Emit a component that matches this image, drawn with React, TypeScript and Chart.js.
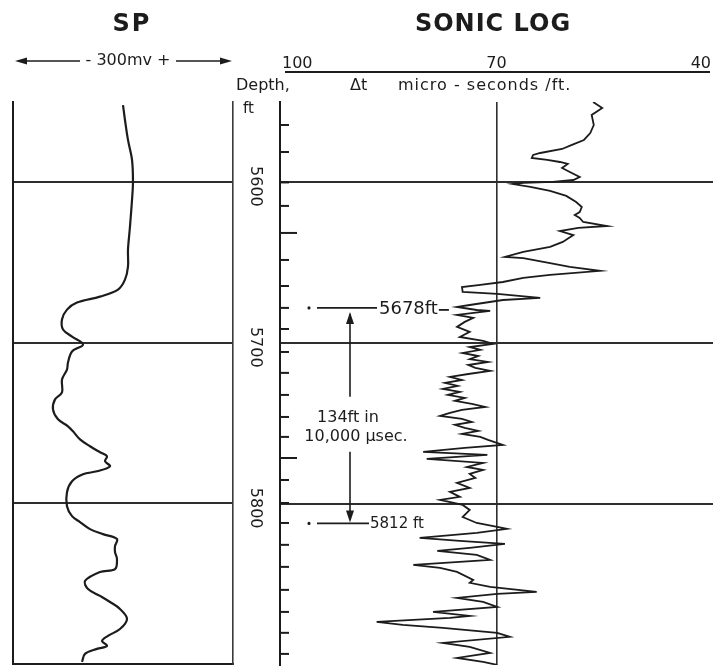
import React, { useEffect, useRef } from "react";
import { Chart, registerables } from "chart.js";

Chart.register(...registerables);

// ---------------- data ----------------
const DEPTH_MIN = 5550;
const DEPTH_MAX = 5900;
const DEPTH_LINES = [5600, 5700, 5800];
const DEPTH_LABELS = ["5600", "5700", "5800"];

// SP curve (relative mV across a 300 mV track, negative to the left)
const SP_DEPTH = [
  5551.9, 5561.2, 5573.6, 5586.0, 5599.7, 5610.9, 5627.7, 5642.0, 5652.5, 5660.6,
  5666.8, 5671.2, 5674.9, 5679.3, 5685.5, 5691.7, 5696.1, 5701.0, 5705.4, 5712.2,
  5716.6, 5722.8, 5730.9, 5735.2, 5741.4, 5747.6, 5752.0, 5755.1, 5760.1, 5764.4,
  5768.1, 5770.6, 5773.7, 5776.9, 5780.0, 5781.8, 5786.2, 5793.0, 5801.7, 5807.9,
  5811.6, 5816.0, 5819.1, 5822.2, 5826.6, 5830.3, 5834.7, 5840.9, 5842.7, 5848.3,
  5853.3, 5857.6, 5861.4, 5865.7, 5871.9, 5878.2, 5882.5, 5885.6, 5888.7, 5890.6,
  5893.7, 5898.7,
];
const SP_MV = [
  150, 152.7, 156.8, 162.3, 163.6, 162.3, 159.5, 156.8, 156.8, 152.7,
  143.2, 118.6, 87.3, 73.6, 66.8, 68.2, 80.5, 95.5, 80.5, 75,
  73.6, 66.8, 66.8, 57.3, 54.5, 61.4, 75, 81.8, 91.4, 105,
  118.6, 128.2, 125.5, 132.3, 114.5, 95.5, 80.5, 73.6, 73.6, 80.5,
  91.4, 105, 122.7, 141.8, 139.1, 139.1, 141.8, 139.1, 118.6, 98.2,
  102.3, 118.6, 132.3, 145.9, 155.5, 145.9, 129.5, 121.4, 128.2, 114.5,
  98.2, 94.1,
];

// Sonic log, delta-t in microseconds per foot
const SONIC_DEPTH = [
  5550.0, 5553.7, 5558.1, 5564.3, 5569.3, 5573.6, 5576.7, 5579.2, 5581.7, 5582.9,
  5584.8, 5586.0, 5587.3, 5588.5, 5591.0, 5593.5, 5596.6, 5598.5, 5599.7, 5600.3,
  5601.0, 5602.8, 5605.3, 5608.4, 5612.2, 5615.3, 5618.4, 5620.2, 5622.1, 5624.6,
  5627.1, 5628.3, 5630.2, 5632.7, 5637.0, 5640.1, 5643.2, 5646.3, 5647.0, 5650.1,
  5652.5, 5655.0, 5657.5, 5659.4, 5661.9, 5663.7, 5665.0, 5668.1, 5669.3, 5671.8,
  5673.1, 5676.2, 5677.4, 5679.3, 5679.9, 5682.4, 5684.2, 5686.7, 5689.8, 5692.9,
  5696.1, 5698.5, 5700.4, 5702.3, 5704.1, 5706.0, 5707.9, 5709.8, 5711.6, 5713.5,
  5715.3, 5717.2, 5719.1, 5720.9, 5722.8, 5724.6, 5726.5, 5728.4, 5730.2, 5732.1,
  5734.0, 5735.8, 5737.7, 5739.6, 5741.4, 5743.3, 5745.2, 5747.0, 5748.9, 5750.7,
  5752.6, 5754.5, 5756.3, 5758.2, 5760.1, 5763.2, 5765.0, 5767.5, 5769.4, 5771.9,
  5774.4, 5776.9, 5778.7, 5781.2, 5783.7, 5786.8, 5789.9, 5792.4, 5795.5, 5797.4,
  5800.5, 5803.6, 5808.0, 5811.7, 5814.1, 5815.4, 5817.9, 5821.0, 5822.8, 5824.7,
  5827.2, 5829.1, 5831.5, 5834.7, 5837.8, 5839.6, 5842.1, 5847.1, 5848.9, 5851.4,
  5854.5, 5855.8, 5858.3, 5860.8, 5863.9, 5867.0, 5869.5, 5870.7, 5873.2, 5875.1,
  5876.9, 5880.0, 5882.5, 5886.3, 5888.7, 5892.5, 5895.6, 5898.1, 5899.9,
];
const SONIC_DT = [
  56.3, 55.0, 56.5, 56.2, 56.7, 57.6, 59.3, 60.7, 63.8, 64.8,
  65.0, 62.8, 61.0, 59.9, 60.7, 59.6, 58.2, 59.1, 62.0, 66.2,
  67.7, 65.2, 62.4, 60.1, 58.7, 57.9, 58.2, 58.9, 58.2, 57.7,
  54.3, 58.4, 61.0, 59.1, 60.6, 62.4, 66.2, 68.8, 66.2, 62.4,
  59.6, 55.3, 62.4, 66.2, 69.1, 72.3, 74.9, 74.8, 69.9, 63.8,
  69.1, 73.8, 75.6, 72.8, 70.9, 75.6, 73.3, 74.5, 75.6, 73.8,
  75.2, 71.9, 70.5, 73.8, 72.3, 74.8, 72.6, 73.8, 71.2, 74.0,
  73.0, 70.9, 74.0, 76.6, 74.9, 77.3, 75.5, 77.6, 75.2, 76.9,
  74.5, 75.9, 73.5, 71.6, 74.9, 76.6, 78.0, 74.9, 73.5, 75.9,
  74.5, 72.6, 74.9, 72.3, 71.2, 69.1, 74.5, 80.4, 71.3, 79.9,
  71.9, 74.2, 71.9, 73.8, 73.0, 75.6, 73.8, 76.6, 75.2, 78.0,
  74.8, 73.8, 74.8, 72.8, 69.9, 68.5, 72.8, 80.9, 75.2, 68.8,
  73.8, 78.4, 72.8, 70.9, 81.8, 78.0, 75.6, 73.3, 73.8, 70.9,
  64.3, 69.9, 75.6, 71.9, 69.9, 79.0, 73.8, 76.6, 87.0, 83.3,
  77.6, 69.9, 68.1, 77.6, 73.8, 70.9, 75.6, 71.9, 69.9,
];

const DT_TICKS = [100, 70, 40];
const DT_TICK_LABELS = ["100", "70", "40"];
const DT_GRID = [70];

// integrated transit-time pips (1 ms each) along the depth column
const TIME_PIPS = [
  5564.3, 5581.1, 5600.0, 5614.6, 5631.4, 5648.2, 5664.4, 5678.0, 5691.1, 5705.4,
  5718.4, 5732.1, 5745.8, 5758.2, 5771.3, 5785.0, 5799.3, 5811.7, 5825.3, 5839.0,
  5853.3, 5867.0, 5880.0, 5893.1,
];
const LONG_PIPS = [5631.4, 5771.3];

const MARK_DEPTHS = [5678, 5812];
const MARK_LABELS = ["5678ft", "5812 ft"];
const INTERVAL_LINES = ["134ft in", "10,000 µsec."];
const INTERVAL_TEXT_DEPTHS = [5746.4, 5758.2];
const ARROW_UP_END = 5733.3;
const ARROW_DOWN_START = 5767.5;

const SP_TITLE = "SP";
const SP_SCALE = "- 300mv +";
const SONIC_TITLE = "SONIC LOG";
const DEPTH_TITLE = "Depth,";
const DEPTH_UNIT = "ft";
const DT_SYMBOL = "Δt";
const DT_UNIT = "micro - seconds /ft.";

// ---------------- styling ----------------
const FONT = '"DejaVu Sans", sans-serif';
const INK = "#1c1c1c";
const GRID = "#2e2e2e";

function hLine(ctx: CanvasRenderingContext2D, x1: number, x2: number, y: number) {
  ctx.beginPath();
  ctx.moveTo(x1, y);
  ctx.lineTo(x2, y);
  ctx.stroke();
}
function vLine(ctx: CanvasRenderingContext2D, x: number, y1: number, y2: number) {
  ctx.beginPath();
  ctx.moveTo(x, y1);
  ctx.lineTo(x, y2);
  ctx.stroke();
}
function vHead(ctx: CanvasRenderingContext2D, x: number, y: number, dir: number) {
  ctx.beginPath();
  ctx.moveTo(x, y);
  ctx.lineTo(x - 4, y - dir * 12);
  ctx.lineTo(x + 4, y - dir * 12);
  ctx.closePath();
  ctx.fill();
}
function hHead(ctx: CanvasRenderingContext2D, x: number, y: number, dir: number) {
  ctx.beginPath();
  ctx.moveTo(x, y);
  ctx.lineTo(x - dir * 12, y - 3.5);
  ctx.lineTo(x - dir * 12, y + 3.5);
  ctx.closePath();
  ctx.fill();
}

const depthAxis = (extra: any = {}) => ({
  type: "linear",
  reverse: true,
  min: DEPTH_MIN,
  max: DEPTH_MAX,
  afterBuildTicks: (s: any) => {
    s.ticks = DEPTH_LINES.map((v) => ({ value: v }));
  },
  ticks: { display: false },
  grid: { color: GRID, lineWidth: 2, drawTicks: false },
  border: { display: true, color: INK, width: 2 },
  ...extra,
});

const spDecor = {
  id: "spDecor",
  afterDraw(chart: any) {
    const { ctx, chartArea: a } = chart;
    ctx.save();
    ctx.fillStyle = INK;
    ctx.strokeStyle = INK;
    ctx.textAlign = "center";
    ctx.textBaseline = "middle";
    ctx.font = `bold 24px ${FONT}`;
    (ctx as any).letterSpacing = "2px";
    ctx.fillText(SP_TITLE, a.left + 119, 25);
    (ctx as any).letterSpacing = "0px";
    ctx.font = `16px ${FONT}`;
    ctx.fillText(SP_SCALE, a.left + 115, 61);
    ctx.lineWidth = 1.6;
    hLine(ctx, a.left + 8, a.left + 67, 61);
    hHead(ctx, a.left + 2, 61, -1);
    hLine(ctx, a.left + 163, a.left + 208, 61);
    hHead(ctx, a.left + 219, 61, 1);
    ctx.restore();
  },
};

const sonicDecor = {
  id: "sonicDecor",
  afterDraw(chart: any) {
    const { ctx, chartArea: a, scales } = chart;
    const xs = scales.x;
    const ys = scales.y;
    ctx.save();
    ctx.fillStyle = INK;
    ctx.strokeStyle = INK;

    // title
    ctx.textAlign = "center";
    ctx.textBaseline = "middle";
    ctx.font = `bold 24px ${FONT}`;
    (ctx as any).letterSpacing = "1px";
    ctx.fillText(SONIC_TITLE, a.left + 213, 25);
    (ctx as any).letterSpacing = "0px";

    // delta-t scale bar
    const p100 = xs.getPixelForValue(DT_TICKS[0]);
    const p40 = xs.getPixelForValue(DT_TICKS[2]);
    ctx.lineWidth = 2.2;
    hLine(ctx, p100, p40 + 2, 72);
    ctx.font = `16px ${FONT}`;
    ctx.textBaseline = "alphabetic";
    DT_TICKS.forEach((v, i) => {
      const px = xs.getPixelForValue(v);
      ctx.textAlign = i === 0 ? "left" : i === DT_TICKS.length - 1 ? "right" : "center";
      ctx.fillText(DT_TICK_LABELS[i], i === 0 ? px - 3 : i === DT_TICKS.length - 1 ? px + 3 : px, 68);
    });

    // header texts
    ctx.textBaseline = "middle";
    ctx.textAlign = "left";
    ctx.font = `16px ${FONT}`;
    ctx.fillText(DEPTH_TITLE, a.left - 44, 86);
    ctx.fillText(DT_SYMBOL, a.left + 70, 86);
    (ctx as any).letterSpacing = "1px";
    ctx.fillText(DT_UNIT, a.left + 118, 86);
    (ctx as any).letterSpacing = "0px";
    ctx.font = `15px ${FONT}`;
    ctx.fillText(DEPTH_UNIT, a.left - 37, 109);

    // rotated depth labels
    ctx.font = `16px ${FONT}`;
    ctx.textAlign = "center";
    DEPTH_LINES.forEach((d, i) => {
      const py = ys.getPixelForValue(d);
      ctx.save();
      ctx.fillStyle = "#fff";
      ctx.fillRect(a.left - 34, py - 24, 18, 50);
      ctx.restore();
      ctx.save();
      ctx.translate(a.left - 25, py + 4);
      ctx.rotate(Math.PI / 2);
      ctx.fillText(DEPTH_LABELS[i], 0, 0);
      ctx.restore();
    });

    // time pips
    ctx.lineWidth = 2;
    TIME_PIPS.forEach((d) => {
      const py = ys.getPixelForValue(d);
      const len = LONG_PIPS.includes(d) ? 17 : 9;
      hLine(ctx, a.left, a.left + len, py);
    });

    // interval markers
    ctx.lineWidth = 1.8;
    const y1 = ys.getPixelForValue(MARK_DEPTHS[0]);
    const y2 = ys.getPixelForValue(MARK_DEPTHS[1]);
    ctx.beginPath();
    ctx.arc(a.left + 29, y1, 1.6, 0, Math.PI * 2);
    ctx.arc(a.left + 29, y2, 1.6, 0, Math.PI * 2);
    ctx.fill();
    hLine(ctx, a.left + 37, a.left + 97, y1);
    hLine(ctx, a.left + 37, a.left + 89, y2);
    ctx.textAlign = "left";
    ctx.font = `18px ${FONT}`;
    ctx.fillText(MARK_LABELS[0], a.left + 99, y1 + 1);
    const w1 = ctx.measureText(MARK_LABELS[0]).width;
    hLine(ctx, a.left + 100 + w1, a.left + 110 + w1, y1 + 2);
    ctx.font = `15px ${FONT}`;
    ctx.fillText(MARK_LABELS[1], a.left + 90, y2 + 1);

    // arrows
    const ax = a.left + 70;
    ctx.lineWidth = 1.6;
    vLine(ctx, ax, y1 + 6, ys.getPixelForValue(ARROW_UP_END));
    vHead(ctx, ax, y1 + 4, -1);
    vLine(ctx, ax, ys.getPixelForValue(ARROW_DOWN_START), y2 - 4);
    vHead(ctx, ax, y2 - 1, 1);

    ctx.textAlign = "center";
    ctx.font = `16px ${FONT}`;
    ctx.fillText(INTERVAL_LINES[0], a.left + 68, ys.getPixelForValue(INTERVAL_TEXT_DEPTHS[0]));
    ctx.fillText(INTERVAL_LINES[1], a.left + 76, ys.getPixelForValue(INTERVAL_TEXT_DEPTHS[1]));

    ctx.restore();
  },
};

export default function App() {
  const spRef = useRef<HTMLCanvasElement>(null);
  const soRef = useRef<HTMLCanvasElement>(null);

  useEffect(() => {
    const common = {
      animation: false,
      responsive: false,
      maintainAspectRatio: false,
      events: [],
    };
    const sp = new Chart(spRef.current as HTMLCanvasElement, {
      type: "scatter",
      data: {
        datasets: [
          {
            data: SP_DEPTH.map((d, i) => ({ x: SP_MV[i], y: d })),
            showLine: true,
            borderColor: INK,
            borderWidth: 2.2,
            pointRadius: 0,
            tension: 0.35,
          },
        ],
      },
      options: {
        ...common,
        layout: { padding: { left: 13, right: 12, top: 102, bottom: 2 } },
        plugins: { legend: { display: false }, tooltip: { enabled: false } },
        scales: {
          x: {
            type: "linear",
            position: "bottom",
            min: 0,
            max: 300,
            ticks: { display: false },
            grid: { display: false, drawTicks: false },
            border: { display: true, color: INK, width: 2 },
          },
          y: depthAxis({ position: "left" }),
          yR: {
            type: "linear",
            position: "right",
            reverse: true,
            min: DEPTH_MIN,
            max: DEPTH_MAX,
            ticks: { display: false },
            grid: { display: false, drawTicks: false },
            border: { display: true, color: "#3a3a3a", width: 1.6 },
          },
        },
      } as any,
      plugins: [spDecor],
    });

    const so = new Chart(soRef.current as HTMLCanvasElement, {
      type: "scatter",
      data: {
        datasets: [
          {
            data: SONIC_DEPTH.map((d, i) => ({ x: SONIC_DT[i], y: d })),
            showLine: true,
            borderColor: INK,
            borderWidth: 1.8,
            pointRadius: 0,
            tension: 0,
          },
        ],
      },
      options: {
        ...common,
        layout: { padding: { left: 52, right: 0, top: 102, bottom: 1 } },
        plugins: { legend: { display: false }, tooltip: { enabled: false } },
        scales: {
          x: {
            type: "linear",
            position: "top",
            reverse: true,
            min: 39.29,
            max: 100.71,
            afterBuildTicks: (s: any) => {
              s.ticks = DT_GRID.map((v) => ({ value: v }));
            },
            ticks: { display: false },
            grid: { color: GRID, lineWidth: 1.6, drawTicks: false },
            border: { display: false },
          },
          y: depthAxis({ position: "left" }),
        },
      } as any,
      plugins: [sonicDecor],
    });

    return () => {
      sp.destroy();
      so.destroy();
    };
  }, []);

  return (
    <div style={{ position: "absolute", left: 0, top: 0, width: 713, height: 666, background: "#fff", overflow: "hidden" }}>
      <canvas ref={spRef} width={245} height={666} style={{ position: "absolute", left: 0, top: 0, width: 245, height: 666 }} />
      <canvas ref={soRef} width={485} height={666} style={{ position: "absolute", left: 228, top: 0, width: 485, height: 666 }} />
    </div>
  );
}
